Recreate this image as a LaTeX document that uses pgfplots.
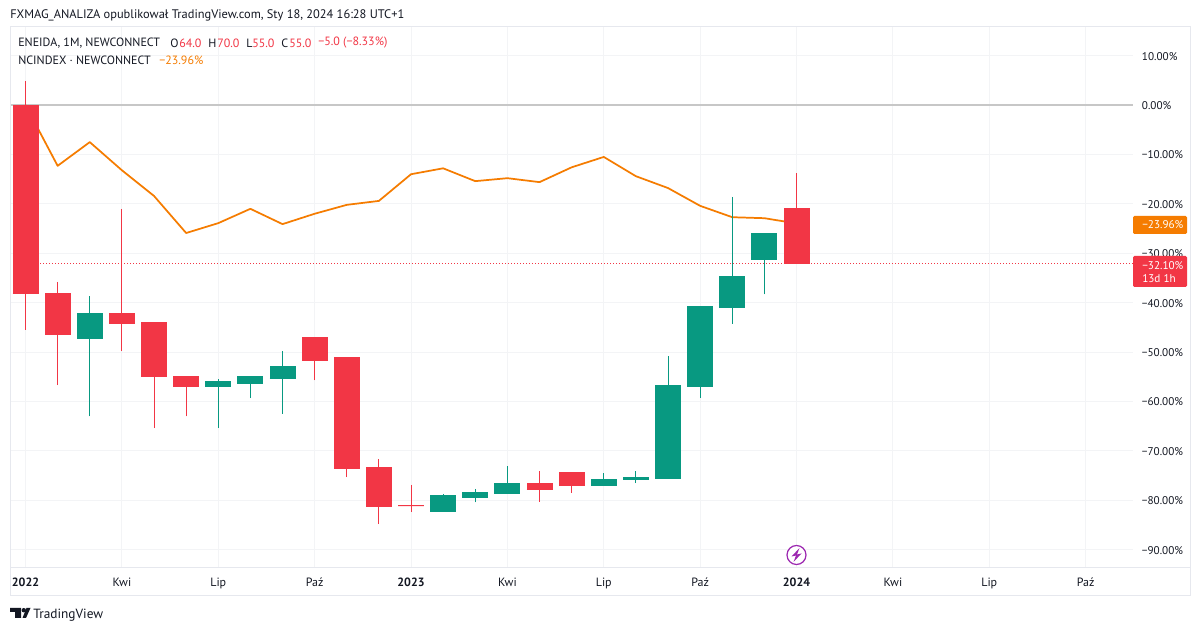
\documentclass[border=0pt]{standalone}
\usepackage{fontspec}
\setmainfont{PT Sans}
\usepackage{pgfplots}
\usepgfplotslibrary{statistics}
\pgfplotsset{compat=1.18}

\definecolor{upc}{HTML}{089981}
\definecolor{downc}{HTML}{F23645}
\definecolor{idx}{HTML}{F57C00}
\definecolor{gridc}{HTML}{F3F4F6}
\definecolor{framec}{HTML}{E6E8EE}
\definecolor{txt}{HTML}{131722}
\definecolor{flash}{HTML}{9C27B0}

% position, low, body bottom, body top, high, colour
\newcommand{\candle}[6]{%
  \addplot[draw=#6, fill=#6, line width=0.7pt, boxplot prepared={
      draw direction=y,
      draw position=#1, lower whisker=#2, lower quartile=#3,
      median=#3, upper quartile=#4, upper whisker=#5,
      box extend=0.78, whisker extend=0}] coordinates {};
}
\newcommand{\legtext}[4]{\node[anchor=west, inner sep=0pt, text=#3, font=\fontsize{9}{9}\selectfont] at (#1,#2) {#4};}

\begin{document}
\begin{tikzpicture}[x=0.75pt,y=0.75pt]
\path[fill=white, use as bounding box] (0,0) rectangle (1200,631);
\begin{axis}[
    at={(7.5pt,47.25pt)}, anchor=south west,
    scale only axis,
    width=842.25pt, height=405.75pt,
    xmin=-0.483, xmax=34.474,
    ymin=-93.7, ymax=15.8,
    axis line style={draw=none},
    tick style={draw=none},
    ytick={10,0,-10,-20,-30,-40,-50,-60,-70,-80,-90},
    yticklabels={10.00\%,0.00\%,−10.00\%,−20.00\%,−30.00\%,−40.00\%,−50.00\%,−60.00\%,−70.00\%,−80.00\%,−90.00\%},
    yticklabel pos=right,
    yticklabel style={font=\fontsize{8.4}{8.4}\selectfont, text=txt, inner sep=0pt, xshift=6.5pt, yshift=-0.4pt},
    xtick={0,3,6,9,12,15,18,21,24,27,30,33},
    xticklabels={\textbf{2022},Kwi,Lip,Paź,\textbf{2023},Kwi,Lip,Paź,\textbf{2024},Kwi,Lip,Paź},
    xticklabel style={font=\fontsize{9}{9}\selectfont, text=txt, inner sep=0pt, yshift=-7.5pt},
    grid=major,
    grid style={gridc, line width=0.75pt},
    clip=false,
]
\addplot[color=black!22, line width=0.9pt, forget plot] coordinates {(-0.483,0)(34.474,0)};
\addplot[color=idx, line width=1.3pt, line join=round] coordinates {
  (0,0)(1,-12.3)(2,-7.5)(3,-13.2)(4,-18.4)(5,-25.9)(6,-23.9)(7,-21.0)(8,-24.1)
  (9,-22.0)(10,-20.2)(11,-19.4)(12,-14.0)(13,-12.8)(14,-15.4)(15,-14.8)(16,-15.6)
  (17,-12.6)(18,-10.5)(19,-14.4)(20,-16.8)(21,-20.4)(22,-22.7)(23,-22.9)(24,-23.96)};
\addplot[draw=downc, line width=0.85pt, dash pattern=on 1pt off 1.25pt] coordinates {(-0.483,-32.1)(34.474,-32.1)};
\candle{0}{-45.5}{-38.2}{0}{4.9}{downc}
\candle{1}{-56.7}{-46.4}{-38.2}{-35.8}{downc}
\candle{2}{-63.0}{-47.2}{-42.1}{-38.7}{upc}
\candle{3}{-49.8}{-44.3}{-42.1}{-21.0}{downc}
\candle{4}{-65.4}{-55.0}{-44.1}{-44.1}{downc}
\candle{5}{-63.0}{-56.9}{-54.9}{-54.9}{downc}
\candle{6}{-65.4}{-56.9}{-55.9}{-55.5}{upc}
\candle{7}{-59.3}{-56.3}{-55.0}{-54.9}{upc}
\candle{8}{-62.5}{-55.3}{-53.0}{-49.8}{upc}
\candle{9}{-55.7}{-51.6}{-47.0}{-47.0}{downc}
\candle{10}{-75.3}{-73.5}{-51.0}{-51.0}{downc}
\candle{11}{-84.8}{-81.2}{-73.3}{-71.7}{downc}
\candle{12}{-82.4}{-81.1}{-81.1}{-76.9}{downc}
\candle{13}{-82.2}{-82.2}{-79.1}{-78.7}{upc}
\candle{14}{-80.4}{-79.4}{-78.5}{-77.7}{upc}
\candle{15}{-78.7}{-78.7}{-76.5}{-73.1}{upc}
\candle{16}{-80.3}{-77.9}{-76.5}{-74.1}{downc}
\candle{17}{-78.5}{-76.9}{-74.3}{-74.3}{downc}
\candle{18}{-76.9}{-76.9}{-75.7}{-74.5}{upc}
\candle{19}{-76.5}{-75.7}{-75.3}{-74.1}{upc}
\candle{20}{-75.5}{-75.5}{-56.7}{-50.8}{upc}
\candle{21}{-59.3}{-56.9}{-40.7}{-40.7}{upc}
\candle{22}{-44.3}{-40.9}{-34.6}{-18.6}{upc}
\candle{23}{-38.3}{-31.2}{-25.9}{-25.9}{upc}
\candle{24}{-32.1}{-32.1}{-21.0}{-13.8}{downc}
\end{axis}
% frame and separators
\draw[framec, line width=0.75pt] (10,35) rectangle (1190,604);
\draw[framec, line width=0.75pt] (10,63) -- (1190,63);
% price tags
\fill[idx, rounded corners=1pt] (1133,397) rectangle (1187,415);
\node[anchor=west, inner sep=0pt, text=white, font=\fontsize{8.4}{8.4}\selectfont] at (1142,406) {−23.96\%};
\fill[downc, rounded corners=1pt] (1133,344) rectangle (1187,375);
\node[anchor=west, inner sep=0pt, text=white, font=\fontsize{8.4}{8.4}\selectfont] at (1142,365) {−32.10\%};
\node[anchor=west, inner sep=0pt, text=white, font=\fontsize{8.4}{8.4}\selectfont] at (1142,352) {13d 1h};
% earnings flash marker
\draw[flash, fill=white, line width=0.9pt] (796.5,76) circle (9.5);
\fill[flash] (799.5,83) -- (791.5,74.5) -- (796,75.5) -- (793.5,69) -- (801.5,77.5) -- (797,76.5) -- cycle;
% header
\node[anchor=west, inner sep=0pt, text=txt, font=\fontsize{9.3}{9.3}\selectfont] at (10,616) {FXMAG\_ANALIZA opublikował TradingView.com, Sty 18, 2024 16:28 UTC+1};
\legtext{18}{588}{txt}{ENEIDA, 1M, NEWCONNECT}
\legtext{170}{588}{txt}{O}\legtext{179}{588}{downc}{64.0}
\legtext{208}{588}{txt}{H}\legtext{217}{588}{downc}{70.0}
\legtext{246}{588}{txt}{L}\legtext{252}{588}{downc}{55.0}
\legtext{281}{588}{txt}{C}\legtext{289}{588}{downc}{55.0}
\legtext{318}{588}{downc}{−5.0 (−8.33\%)}
\legtext{18}{571}{txt}{NCINDEX · NEWCONNECT}
\legtext{159}{571}{idx}{−23.96\%}
% logo
\fill[txt] (10,23) -- (21,23) -- (21,13) -- (15,13) -- (15,19) -- (10,19) -- cycle;
\fill[txt] (23.8,20.8) circle (2.2);
\fill[txt] (22.5,13) -- (26,13) -- (30.5,23) -- (26.5,23) -- cycle;
\node[anchor=west, inner sep=0pt, text=txt, font=\fontsize{10}{10}\selectfont] at (33,16) {TradingView};
\end{tikzpicture}
\end{document}
